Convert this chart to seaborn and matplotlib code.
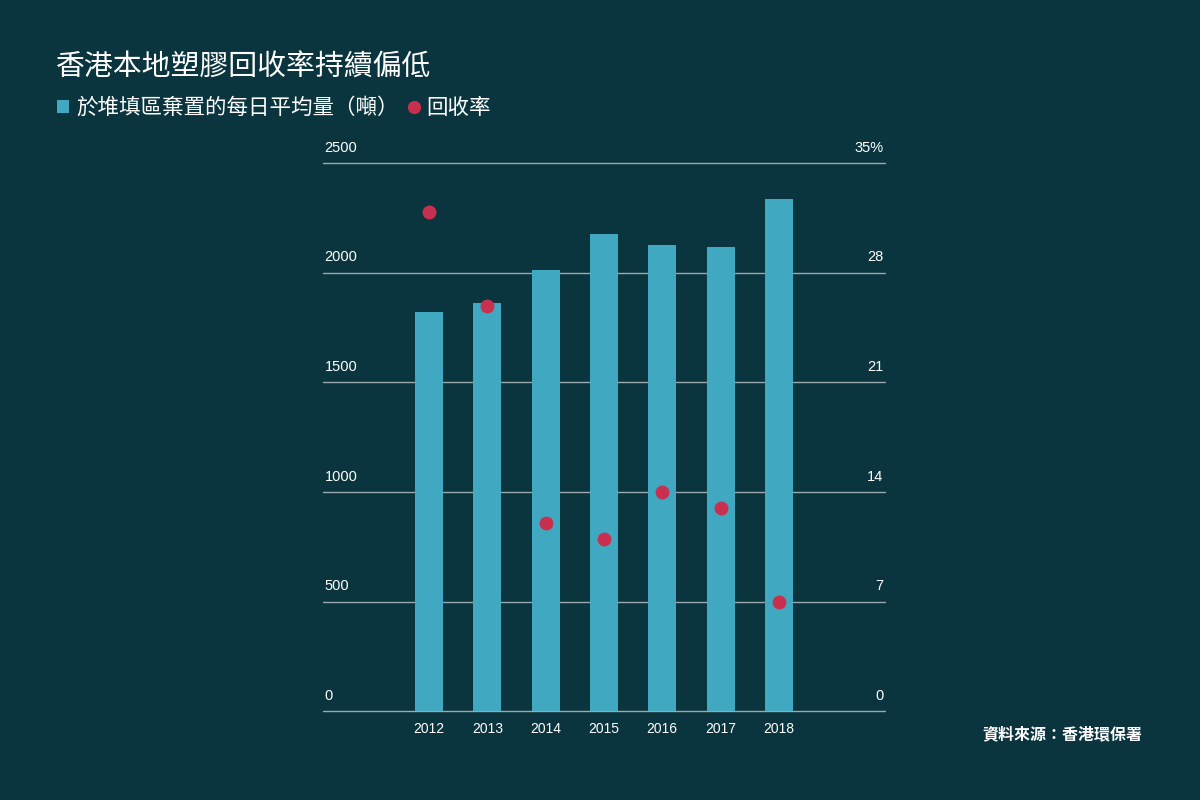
import matplotlib.pyplot as plt
import pandas as pd
import seaborn as sns
from matplotlib.lines import Line2D
from matplotlib.patches import Patch
from matplotlib.transforms import blended_transform_factory

YEARS = ["2012", "2013", "2014", "2015", "2016", "2017", "2018"]
LANDFILL_TONNES = [1820, 1861, 2012, 2176, 2126, 2117, 2336]
RECOVERY_RATE = [31.9, 25.9, 12.0, 11.0, 14.0, 13.0, 7.0]

LEFT_TICKS = [0, 500, 1000, 1500, 2000, 2500]
RIGHT_TICKS = [0, 7, 14, 21, 28, 35]
RIGHT_LABELS = ["0", "7", "14", "21", "28", "35%"]

TITLE = "香港本地塑膠回收率持續偏低"
BAR_LABEL = "於堆填區棄置的每日平均量（噸）"
DOT_LABEL = "回收率"
SOURCE = "資料來源：香港環保署"

BG = "#0b353e"
BAR_COLOR = "#41a8c2"
DOT_COLOR = "#c9304f"
GRID_COLOR = "#9aa9ad"
TEXT_COLOR = "white"
NUM_FONT = ["Liberation Sans", "DejaVu Sans"]

sns.set_theme(style="white")
plt.rcParams["font.family"] = ["Noto Sans CJK TC", "DejaVu Sans"]

df = pd.DataFrame({"year": YEARS, "tonnes": LANDFILL_TONNES, "rate": RECOVERY_RATE})

fig = plt.figure(figsize=(12, 8), dpi=100, facecolor=BG)
ax = fig.add_axes([0.269, 0.111, 0.4685, 0.685])
ax.set_facecolor(BG)

sns.barplot(data=df, x="year", y="tonnes", color=BAR_COLOR, width=0.48,
            saturation=1, linewidth=0, ax=ax, zorder=3)
ax.set_ylim(0, 2500)

for t in LEFT_TICKS:
    ax.axhline(t, color=GRID_COLOR, linewidth=1, zorder=1, clip_on=False)

ax2 = ax.twinx()
sns.pointplot(data=df, x="year", y="rate", color=DOT_COLOR, linestyle="none",
              markers="o", markersize=10, errorbar=None, ax=ax2)
for ln in ax2.lines:
    ln.set_markeredgewidth(0)
ax2.set_ylim(0, 35)
ax.set_xlim(-1.82, 7.82)
ax2.set_xlim(-1.82, 7.82)

for a in (ax, ax2):
    a.set_xlabel("")
    a.set_ylabel("")
    a.set_yticks([])
    for s in a.spines.values():
        s.set_visible(False)
    a.tick_params(axis="both", length=0)

ax.tick_params(axis="x", colors=TEXT_COLOR, labelsize=10, pad=8, labelbottom=True)
for lbl in ax.get_xticklabels():
    lbl.set_fontfamily(NUM_FONT)
ax2.tick_params(axis="x", labelbottom=False)

tl = blended_transform_factory(ax.transAxes, ax.transData)
for t in LEFT_TICKS:
    ax.annotate(str(t), (0.003, t), xycoords=tl, xytext=(0, 6),
                textcoords="offset points", ha="left", va="bottom",
                color=TEXT_COLOR, fontsize=10.5, family=NUM_FONT)
tr = blended_transform_factory(ax2.transAxes, ax2.transData)
for t, lab in zip(RIGHT_TICKS, RIGHT_LABELS):
    ax2.annotate(lab, (0.997, t), xycoords=tr, xytext=(0, 6),
                 textcoords="offset points", ha="right", va="bottom",
                 color=TEXT_COLOR, fontsize=10.5, family=NUM_FONT)

fig.text(0.047, 0.915, TITLE, color=TEXT_COLOR, fontsize=20.8, va="center", ha="left")

handles = [
    Patch(facecolor=BAR_COLOR, edgecolor="none"),
    Line2D([], [], marker="o", linestyle="none", markersize=9.5,
           markerfacecolor=DOT_COLOR, markeredgewidth=0),
]
fig.legend(handles, [BAR_LABEL, DOT_LABEL], loc="center left",
           bbox_to_anchor=(0.031, 0.865), ncol=2, frameon=False,
           fontsize=15.5, handlelength=0.6, handleheight=0.6,
           handletextpad=0.3, columnspacing=0.4, labelcolor=TEXT_COLOR)

fig.text(0.952, 0.082, SOURCE, color=TEXT_COLOR, fontsize=11.5, ha="right",
         va="center", fontweight="bold")

fig.savefig("out.png", dpi=100, facecolor=BG)
